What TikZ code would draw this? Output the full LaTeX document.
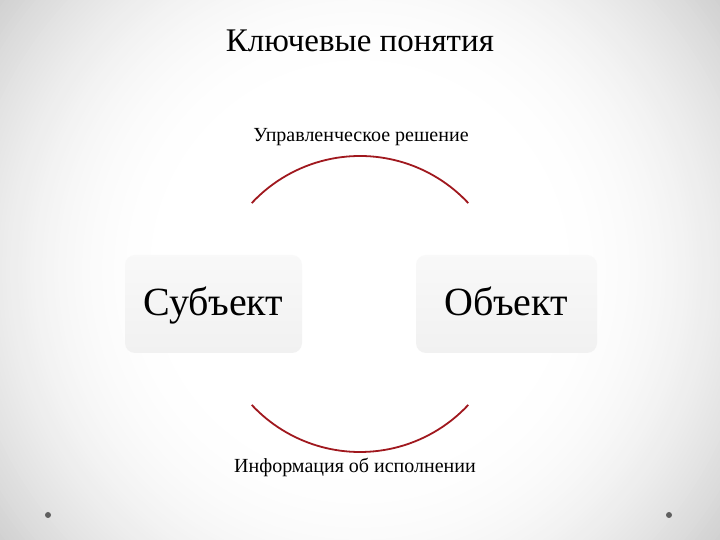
\documentclass[tikz,border=0pt]{standalone}
\usepackage{fontspec}
\setmainfont{Liberation Serif}
\usepackage{tikz}
\usetikzlibrary{positioning,calc,shapes}

\definecolor{arcred}{RGB}{160,24,30}
\definecolor{dotgray}{RGB}{95,95,95}

\tikzset{
  conceptbox/.style={rounded corners=10pt,top color=gray!5,bottom color=gray!11,draw=none,
    inner sep=0pt,text height=30pt,text depth=6pt,font=\fontsize{40}{44}\selectfont},
  arclabel/.style={anchor=base,font=\fontsize{20}{24}\selectfont},
  cycle arc/.style={draw=arcred,line width=1.8pt}
}

\begin{document}
\begin{tikzpicture}[x=1pt,y=1pt]
          % Background of the slide
          \useasboundingbox (0,0) rectangle (720,540);
          \begin{scope}
            \clip (0,0) rectangle (720,540);
            \fill[gray!36] (0,0) rectangle (720,540);
            \foreach \r [evaluate=\r as \p using {36*((\r-190)/260)^2}] in {450,446,...,190}
              \fill[gray!\p] (360,270) circle (\r);
            \fill[white] (360,270) circle (190);
          \end{scope}

          % Title
          \node[anchor=base,font=\fontsize{33}{38}\selectfont] (title) at (360,488) {Ключевые понятия};

          % Draw the boxes
          \node[conceptbox,minimum width=177pt,minimum height=98pt] (subj) at (213.5,236) {Субъект};
          \node[conceptbox,minimum width=181pt,minimum height=98pt] (obj) at (506.5,236) {Объект};

          % Draw the arcs
          \coordinate (c) at (360,236);
          \draw[cycle arc] ($(c)+(43:148)$) arc[start angle=43,end angle=137,radius=148];
          \draw[cycle arc] ($(c)+(223:148)$) arc[start angle=223,end angle=317,radius=148];

          % Labels of the arcs
          \node[arclabel] (decision) at (361,398) {Управленческое решение};
          \node[arclabel] (report) at (355,67) {Информация об исполнении};

          % Dots in the corners
          \fill[dotgray] (48,25) circle (3);
          \fill[dotgray] (669,25) circle (3);
        
        \end{tikzpicture}
\end{document}
